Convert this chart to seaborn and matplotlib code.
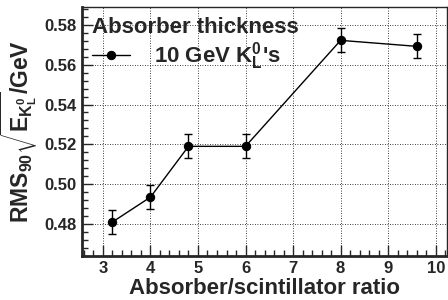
import numpy as np
import pandas as pd
import matplotlib
matplotlib.use("Agg")
import matplotlib.pyplot as plt
from matplotlib.ticker import MultipleLocator
import seaborn as sns

# absorber/scintillator ratio vs RMS90/sqrt(E) for 10 GeV K0L
ratio = [3.2, 4.0, 4.8, 6.0, 8.0, 9.6]
rms90 = [0.481, 0.4935, 0.519, 0.519, 0.5722, 0.5692]
rms90_err = [0.006, 0.006, 0.006, 0.006, 0.006, 0.006]

df = pd.DataFrame({"ratio": ratio, "rms90": rms90, "err": rms90_err})

sns.set_style("ticks")
plt.rcParams['font.family'] = ['Liberation Sans', 'DejaVu Sans']
plt.rcParams['font.weight'] = 'bold'
plt.rcParams['mathtext.fontset'] = 'custom'
plt.rcParams['mathtext.rm'] = 'Liberation Sans:bold'
plt.rcParams['mathtext.it'] = 'Liberation Sans:bold'
plt.rcParams['mathtext.bf'] = 'Liberation Sans:bold'
plt.rcParams['mathtext.default'] = 'bf'

fig = plt.figure(figsize=(4.48, 3.0), dpi=100)
ax = fig.add_axes([0.183, 0.147, 0.815, 0.83])

ax.errorbar(df["ratio"], df["rms90"], yerr=df["err"], fmt="none",
            ecolor="black", elinewidth=1.0, capsize=3, capthick=1.0, zorder=3)
sns.lineplot(data=df, x="ratio", y="rms90", ax=ax, color="black", lw=1.0,
             marker="o", markersize=6, markeredgecolor="black",
             label=r"10 GeV $\mathregular{K_L^0}$'s", zorder=4)

ax.set_xlim(2.56, 10.24)
ax.set_ylim(0.464, 0.589)
ax.xaxis.set_major_locator(MultipleLocator(1))
ax.xaxis.set_minor_locator(MultipleLocator(0.2))
ax.yaxis.set_major_locator(MultipleLocator(0.02))
ax.yaxis.set_minor_locator(MultipleLocator(0.004))
ax.yaxis.set_major_formatter(matplotlib.ticker.FormatStrFormatter('%.2f'))

ax.grid(True, which="major", color="black", ls=(0, (1, 2)), lw=0.6)
ax.tick_params(which="both", direction="in", top=False, right=False,
               labelsize=12, pad=4)
ax.tick_params(which="major", length=8, width=1)
ax.tick_params(which="minor", length=4, width=1)
for lab in ax.get_xticklabels() + ax.get_yticklabels():
    lab.set_fontweight("bold")

ax.spines["left"].set_linewidth(2)
ax.spines["bottom"].set_linewidth(2)
ax.spines["top"].set_linewidth(1)
ax.spines["right"].set_linewidth(1)

ax.set_xlabel("Absorber/scintillator ratio", fontsize=16, fontweight="bold",
              labelpad=1)
ax.set_ylabel(r"RMS$_{90}\sqrt{E_{K_L^0}}$/GeV", fontsize=16.5, fontweight="bold",
              labelpad=3)

leg = ax.legend(title="Absorber thickness", loc="upper left", frameon=False,
                fontsize=16, title_fontproperties={"size": 16, "weight": "bold"},
                alignment="left", handlelength=1.7, borderaxespad=0.3,
                borderpad=0.15, labelspacing=0.1, handletextpad=1.1)
for t in leg.get_texts():
    t.set_fontweight("bold")

fig.savefig("out.png", dpi=100)
